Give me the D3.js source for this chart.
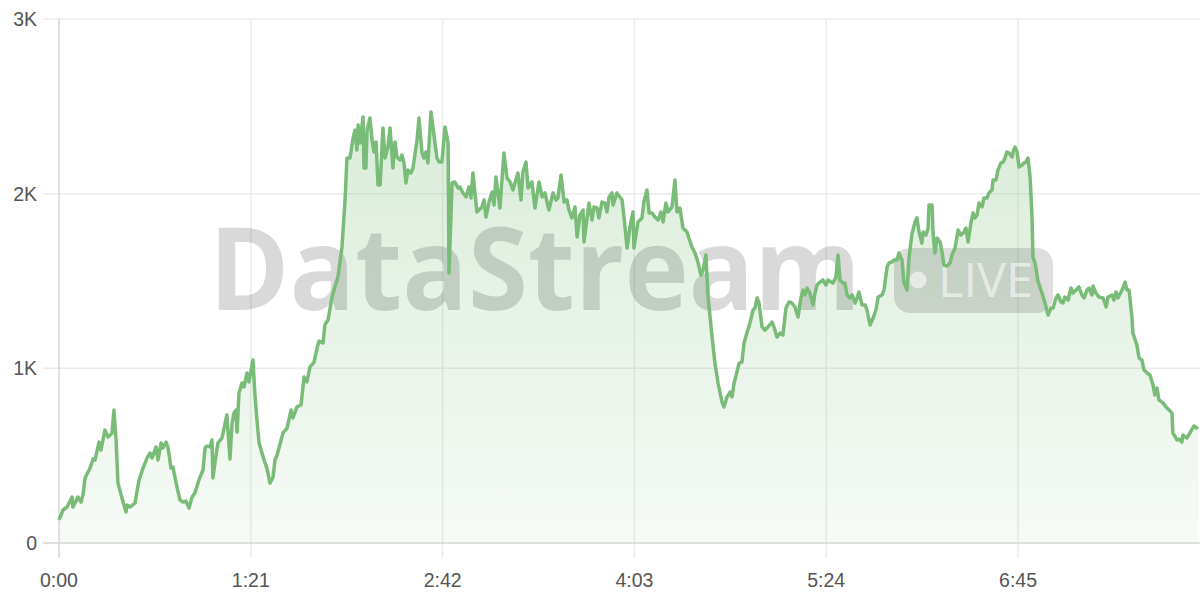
<!DOCTYPE html>
<html>
<head>
<meta charset="utf-8">
<script src="https://cdn.jsdelivr.net/npm/d3@7"></script>
<style>
  html, body { margin: 0; padding: 0; background: #fff; }
  svg { display: block; }
</style>
</head>
<body>
<svg id="chart" width="1200" height="600"></svg>
<script>
// elapsed time in seconds
const times = [
  0,1.7,3.4,5.5,5.9,8.0,9.3,10.1,11.0,13.1,14.4,15.2,16.9,17.7,19.4,20.7,22.4,23.2,24.1,24.9,
  26.6,28.3,28.7,30.0,32.1,33.8,35.5,37.2,38.4,39.3,41.0,41.8,43.1,43.9,45.2,46.0,47.3,48.1,49.8,51.1,
  52.4,53.6,54.9,56.2,57.4,59.1,60.8,61.7,62.5,63.8,64.6,65.0,65.9,67.1,68.8,69.3,70.9,72.2,73.1,73.9,
  74.7,75.2,76.0,77.3,78.1,79.4,80.2,81.9,82.8,83.6,84.5,85.7,87.0,87.8,89.1,90.4,91.2,92.1,93.8,94.6,
  96.3,98.0,98.8,100.5,102.2,103.5,104.7,106.0,107.7,109.0,109.8,111.5,112.3,113.6,115.3,116.1,117.8,119.5,120.8,121.6,
  122.9,124.2,125.0,125.8,126.3,127.1,128.4,128.8,129.6,130.1,131.3,132.2,133.0,133.9,134.7,135.6,136.8,137.7,138.9,139.8,
  141.0,141.9,142.7,144.0,144.8,145.7,146.5,147.4,148.6,149.5,151.2,152.0,153.3,154.1,155.0,155.8,157.1,157.9,159.6,160.5,
  161.7,163.0,164.3,164.7,166.0,167.2,168.5,169.3,170.6,171.9,173.1,174.0,174.8,176.5,178.6,179.5,180.3,181.6,182.9,183.7,
  184.5,186.2,187.9,189.2,190.5,191.7,193.8,195.1,195.9,197.2,198.1,199.7,201.0,202.7,204.0,205.2,206.9,208.6,209.9,210.7,
  212.0,213.3,214.5,215.4,216.6,217.9,218.8,220.0,221.3,221.7,223.0,223.8,225.1,225.9,227.2,228.0,229.3,230.6,231.4,232.3,
  233.5,234.0,235.6,237.8,238.6,239.9,241.1,242.4,242.8,244.5,246.2,247.0,248.3,249.2,250.4,251.7,253.0,254.2,255.1,256.3,
  257.2,258.9,260.1,261.0,262.2,263.5,265.2,266.0,267.3,268.6,269.9,271.1,272.0,273.2,274.1,275.8,277.0,278.3,280.0,280.8,
  282.1,283.4,284.2,285.1,286.3,287.2,288.4,289.3,290.5,291.8,293.1,293.9,294.8,295.6,296.9,298.1,299.4,301.1,301.9,303.2,
  304.5,305.7,307.0,308.3,309.5,310.8,312.1,313.3,314.2,315.0,315.9,317.1,318.4,319.3,320.1,321.4,322.6,323.9,324.7,326.0,
  326.9,328.1,329.0,329.8,331.1,331.9,332.8,334.0,334.9,336.2,337.0,337.8,339.1,340.4,341.2,342.5,343.8,345.0,345.9,347.6,
  348.4,349.7,350.5,351.8,352.6,353.9,354.7,356.0,356.8,358.1,359.0,360.2,361.5,362.3,363.2,364.4,364.9,366.1,367.0,367.4,
  368.7,369.1,369.9,370.8,372.1,372.9,373.7,375.0,376.3,377.1,378.4,379.7,380.9,382.2,383.0,383.9,385.1,386.0,386.8,387.7,
  388.5,389.8,390.6,391.9,392.7,394.0,394.4,395.7,396.5,397.8,398.7,399.5,400.3,401.2,402.5,402.9,403.7,404.6,405.4,406.7,
  407.5,408.4,409.2,410.1,410.9,411.3,412.2,413.4,415.1,416.4,417.7,418.9,419.8,421.0,421.9,423.1,424.0,424.8,426.1,427.4,
  428.2,429.5,430.7,432.0,432.9,434.1,435.0,436.2,436.7,437.9,439.2,440.9,442.2,443.0,444.7,445.5,446.4,447.2,448.5,449.3,
  450.2,451.0,451.9,453.1,453.5,455.2,456.1,457.3,458.2,459.5,460.7,462.0,462.8,463.7,464.5,466.2,467.5,468.8,470.0,470.4,
  472.1,473.0,474.2,474.6,476.3,477.6,479.3,481.0
];
// viewers
const viewers = [
  132,189,206,263,206,263,235,275,372,429,481,475,578,532,647,607,630,761,590,343,
  258,177,218,206,229,361,429,487,515,487,550,475,572,544,578,550,429,435,321,246,
  235,240,200,263,286,361,418,544,555,550,590,372,464,572,601,630,733,481,687,744,
  761,635,859,916,893,973,922,1048,836,704,572,515,458,429,343,378,475,504,590,630,
  658,761,716,779,790,950,922,1008,1036,1116,1156,1145,1250,1277,1408,1448,1523,1695,1964,2204,
  2204,2319,2364,2250,2393,2290,2439,2147,2147,2364,2433,2307,2239,2296,2050,2050,2376,2204,2267,2376,
  2147,2296,2210,2193,2221,2176,2061,2135,2118,2147,2307,2433,2233,2204,2239,2176,2468,2382,2204,2181,
  2181,2382,2290,1546,2061,2067,2032,2038,2004,1981,2038,1975,2118,1895,1924,1964,1866,1952,2009,1935,
  2095,1918,2233,2090,2067,2021,2118,1964,2124,2181,2032,2067,1918,2067,1981,2004,1906,2004,1964,1975,
  2107,1952,1964,1906,1861,1924,1752,1878,1906,1723,1861,1946,1849,1924,1918,1861,1952,1946,1895,1981,
  2004,1935,2004,1964,1866,1689,1809,1895,1689,1838,1861,1952,2021,1889,1889,1866,1849,1895,1838,1946,
  1895,1924,2078,1895,1918,1803,1780,1746,1695,1660,1603,1534,1563,1649,1408,1179,1030,916,807,779,
  836,864,836,916,979,1030,1036,1145,1202,1260,1334,1345,1403,1374,1237,1219,1237,1265,1237,1179,
  1202,1191,1345,1380,1374,1351,1294,1403,1448,1420,1460,1431,1363,1431,1477,1494,1506,1477,1506,1494,
  1488,1523,1649,1506,1488,1488,1420,1403,1420,1374,1403,1437,1363,1363,1334,1248,1288,1334,1408,1420,
  1448,1580,1603,1609,1620,1620,1660,1620,1494,1448,1637,1770,1838,1861,1780,1717,1780,1763,1800,1935,
  1935,1775,1660,1746,1723,1666,1591,1586,1603,1649,1689,1792,1763,1780,1803,1723,1832,1889,1861,1878,
  1946,1924,1975,1975,2004,2021,2078,2078,2135,2176,2181,2204,2239,2233,2210,2239,2267,2239,2153,2164,
  2176,2181,2204,2095,1866,1637,1603,1500,1431,1374,1305,1345,1345,1403,1420,1380,1374,1408,1391,1460,
  1431,1448,1466,1420,1403,1448,1460,1420,1471,1431,1408,1403,1351,1408,1420,1391,1437,1403,1437,1460,
  1494,1448,1448,1294,1202,1133,1059,1048,990,973,962,905,847,887,819,802,779,761,744,630,
  590,595,578,618,601,630,670,653
];
const xTicks = [0, 81, 162, 243, 324, 405];
const yTicks = [0, 1000, 2000, 3000];
const yTickLabels = ["0", "1K", "2K", "3K"];
const watermarkText = "DataStream";
const badgeText = "LIVE";

const data = times.map((t, i) => ({ t, v: viewers[i] }));

const svg = d3.select("#chart");
const x = d3.scaleLinear().domain([0, 481]).range([59, 1198]);
const y = d3.scaleLinear().domain([0, 3000]).range([543, 19]);

const fmt = s => Math.floor(s / 60) + ":" + String(Math.round(s % 60)).padStart(2, "0");
const font = "'Liberation Sans', Arial, Helvetica, sans-serif";

const defs = svg.append("defs");
const grad = defs.append("linearGradient").attr("id", "fillGrad")
  .attr("gradientUnits", "userSpaceOnUse").attr("x1", 0).attr("x2", 0)
  .attr("y1", y(2500)).attr("y2", y(0));
grad.append("stop").attr("offset", 0).attr("stop-color", "#79bc78").attr("stop-opacity", 0.28);
grad.append("stop").attr("offset", 1).attr("stop-color", "#79bc78").attr("stop-opacity", 0.07);

// horizontal grid
svg.append("g").selectAll("line").data(yTicks.slice(1)).join("line")
  .attr("x1", 43).attr("x2", 1200)
  .attr("y1", d => y(d)).attr("y2", d => y(d))
  .attr("stroke", "#ebebeb").attr("stroke-width", 1.5);
// vertical grid
svg.append("g").selectAll("line").data(xTicks.slice(1)).join("line")
  .attr("x1", d => x(d)).attr("x2", d => x(d))
  .attr("y1", y(3000)).attr("y2", 558)
  .attr("stroke", "#ebebeb").attr("stroke-width", 1.5);

// area
svg.append("path").datum(data)
  .attr("fill", "url(#fillGrad)")
  .attr("d", d3.area().x(d => x(d.t)).y0(y(0)).y1(d => y(d.v)));

// watermark
const wm = svg.append("g");
wm.append("text").text(watermarkText)
  .attr("x", 209).attr("y", 310)
  .attr("font-family", "'Open Sans', 'Liberation Sans', sans-serif")
  .attr("font-weight", 700).attr("font-size", 114)
  .attr("textLength", 652).attr("lengthAdjust", "spacingAndGlyphs")
  .attr("fill", "#000").attr("fill-opacity", 0.15);
wm.append("rect").attr("x", 894).attr("y", 248).attr("width", 159).attr("height", 65)
  .attr("rx", 16).attr("fill", "#000").attr("fill-opacity", 0.13);
wm.append("circle").attr("cx", 918).attr("cy", 280).attr("r", 8.5)
  .attr("fill", "#fff").attr("fill-opacity", 0.55);
wm.append("text").text(badgeText)
  .attr("x", 938).attr("y", 297)
  .attr("font-family", "'Open Sans', 'Liberation Sans', sans-serif")
  .attr("font-weight", 400).attr("font-size", 47)
  .attr("textLength", 95).attr("lengthAdjust", "spacingAndGlyphs")
  .attr("fill", "#fff").attr("fill-opacity", 0.55);

// axes lines
svg.append("line").attr("x1", 59).attr("x2", 59).attr("y1", y(3000)).attr("y2", 558)
  .attr("stroke", "#d6d6d6").attr("stroke-width", 1.5);
svg.append("line").attr("x1", 43).attr("x2", 1200).attr("y1", y(0)).attr("y2", y(0))
  .attr("stroke", "#d6d6d6").attr("stroke-width", 1.5);

// line
svg.append("path").datum(data)
  .attr("fill", "none").attr("stroke", "#79bc78").attr("stroke-width", 3.5)
  .attr("stroke-linejoin", "round")
  .attr("d", d3.line().x(d => x(d.t)).y(d => y(d.v)));

// y labels
svg.append("g").selectAll("text").data(yTicks).join("text")
  .attr("x", 37).attr("y", d => y(d)).attr("dy", "0.36em")
  .attr("text-anchor", "end")
  .attr("font-family", font).attr("font-size", 19.5).attr("fill", "#555")
  .text((d, i) => yTickLabels[i]);
// x labels
svg.append("g").selectAll("text").data(xTicks).join("text")
  .attr("x", d => x(d)).attr("y", 587)
  .attr("text-anchor", "middle")
  .attr("font-family", font).attr("font-size", 19.5).attr("fill", "#555")
  .text(d => fmt(d));
</script>
</body>
</html>
